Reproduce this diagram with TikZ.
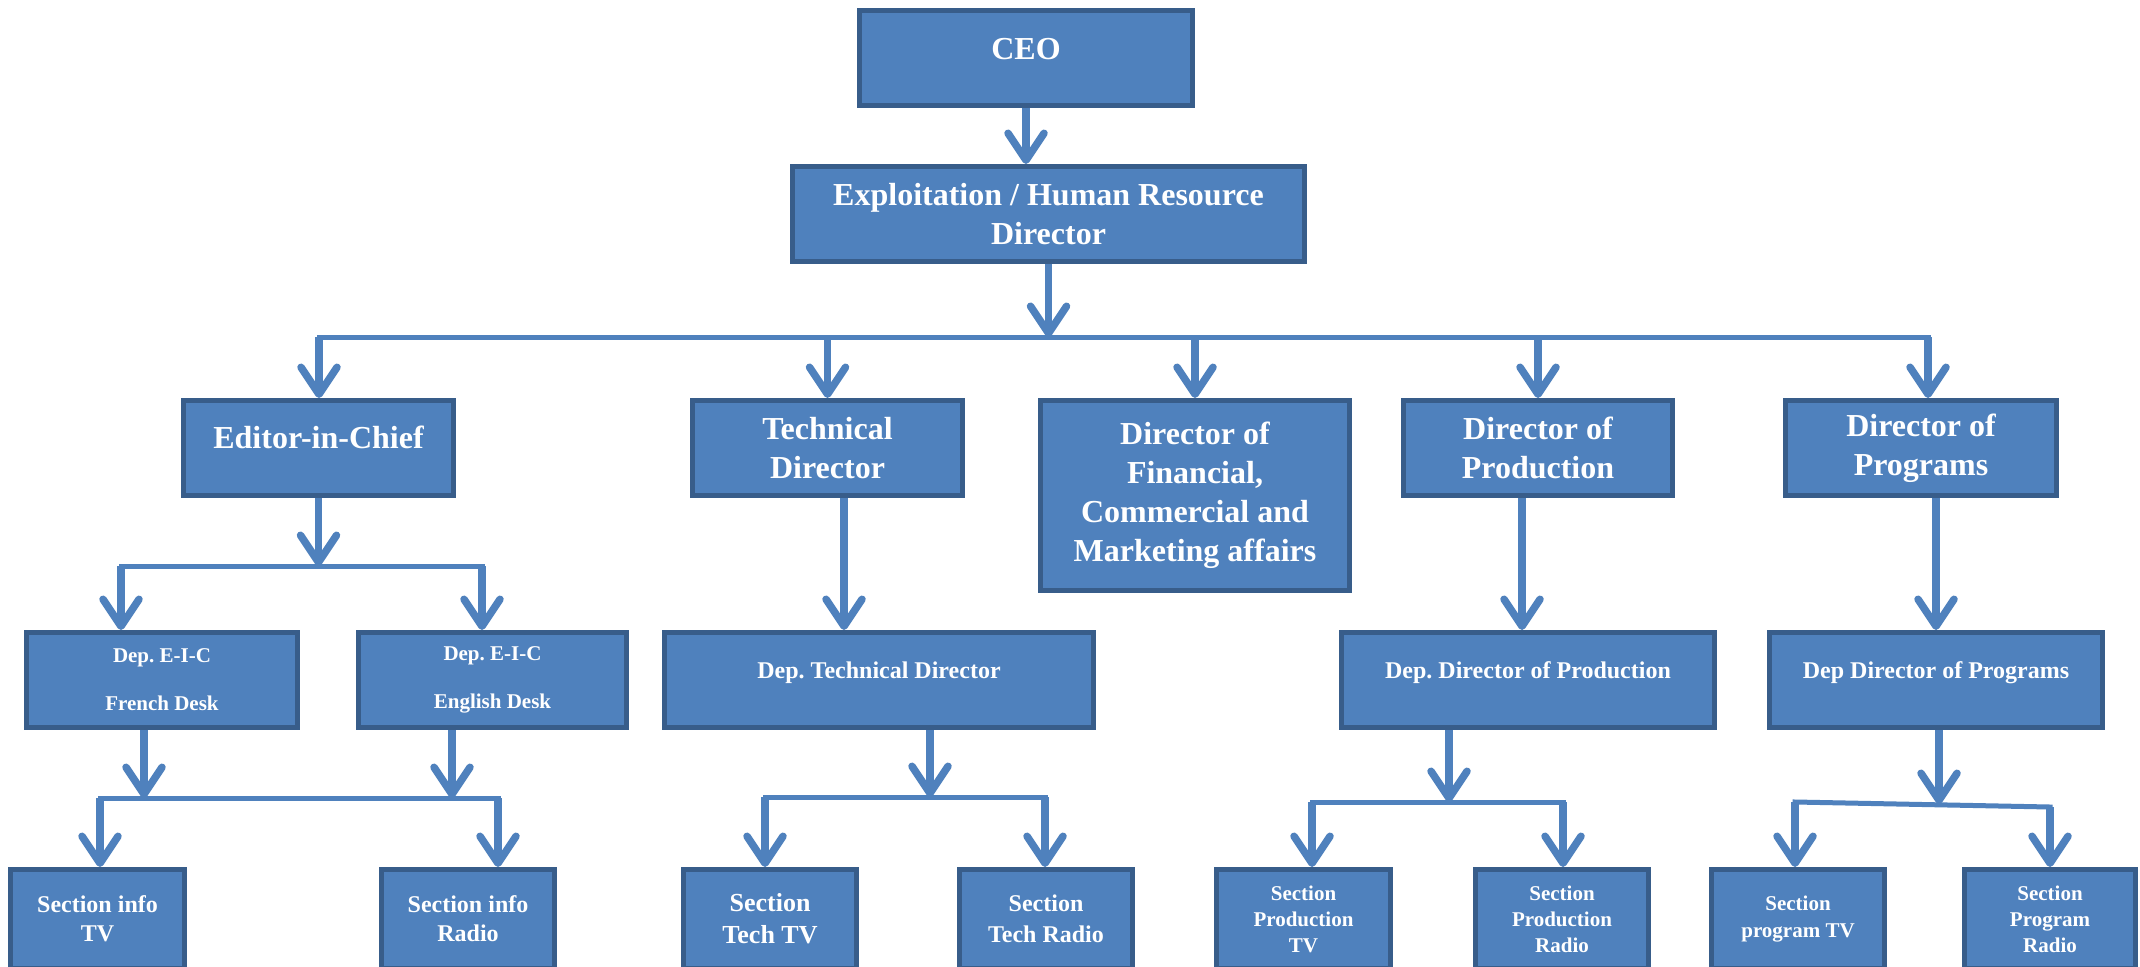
\documentclass[tikz,border=0pt]{standalone}
\usepackage{fontspec}
\setmainfont{Liberation Serif}
\usepackage{tikz}
\usetikzlibrary{arrows.meta}
\definecolor{boxfill}{HTML}{4F81BD}
\definecolor{boxline}{HTML}{385D8A}
\frenchspacing
\tikzset{
	unit/.style={draw=boxline,fill=boxfill,line width=5pt,text=white,align=center,inner sep=0pt},
	toprole/.style={unit,font=\bfseries\fontsize{32}{39}\selectfont,minimum height=95pt},
	deprole/.style={unit,font=\bfseries\fontsize{24}{29}\selectfont,minimum height=95pt},
	section/.style={unit,minimum height=99pt},
	arr/.style={draw=boxfill,line width=7.5pt,-{Straight Barb[length=27pt,width=36pt,round]}},
	bus/.style={draw=boxfill,line width=5pt,line cap=rect},
}

\begin{document}
\begin{tikzpicture}[x=1pt,y=-1pt]
			\useasboundingbox (0,0) rectangle (2140,966);
			\fill[white] (0,0) rectangle (2140,966);
			\clip (0,0) rectangle (2140,966);
			
			\node[toprole,minimum width=333pt,text depth=19pt] (ceo)at(1026,58) {CEO};
			\node[toprole,minimum width=512pt] (exp)at(1048.5,214) {Exploitation / Human Resource\\Director};
			
			\node[toprole,minimum width=270pt,text depth=22pt] (eic)at(318.5,448) {Editor-in-Chief};
			\node[toprole,minimum width=270pt] (techdir)at(827.5,448) {Technical\\Director};
			\node[toprole,minimum width=309pt,minimum height=190pt] (findir)at(1195,495.5) {Director of\\Financial,\\Commercial and\\Marketing affairs};
			\node[toprole,minimum width=269pt] (proddir)at(1538,448) {Director of\\Production};
			\node[toprole,minimum width=271pt] (progdir)at(1921,448) {Director of\\Programs};
			
			\node[deprole,font=\bfseries\fontsize{21}{26}\selectfont,minimum width=271pt] (depfr)at(162,680) {Dep. E-I-C\\[22pt]French Desk};
			\node[deprole,font=\bfseries\fontsize{21}{26}\selectfont,minimum width=268pt] (depen)at(492.5,680) {Dep. E-I-C\\[22pt]English Desk};
			\node[deprole,minimum width=429pt,text depth=20pt] (deptech)at(879,680) {Dep. Technical Director};
			\node[deprole,minimum width=373pt,text depth=20pt] (depprod)at(1528,680) {Dep. Director of Production};
			\node[deprole,minimum width=333pt,text depth=20pt] (depprog)at(1936,680) {Dep Director of Programs};
			
			\node[section,font=\bfseries\fontsize{24}{29}\selectfont,minimum width=174pt] (infotv)at(97.5,919) {Section info\\TV};
			\node[section,font=\bfseries\fontsize{24}{29}\selectfont,minimum width=173pt] (inforadio)at(468,919) {Section info\\Radio};
			\node[section,font=\bfseries\fontsize{26}{32}\selectfont,minimum width=173pt] (techtv)at(770,919) {Section\\Tech TV};
			\node[section,font=\bfseries\fontsize{24}{31}\selectfont,minimum width=173pt] (techradio)at(1046,919) {Section\\Tech Radio};
			\node[section,font=\bfseries\fontsize{21}{26}\selectfont,minimum width=174pt] (prodtv)at(1303.5,919) {Section\\Production\\TV};
			\node[section,font=\bfseries\fontsize{21}{26}\selectfont,minimum width=173pt] (prodradio)at(1562,919) {Section\\Production\\Radio};
			\node[section,font=\bfseries\fontsize{21}{27}\selectfont,minimum width=173pt] (progtv)at(1798,919) {Section\\program TV};
			\node[section,font=\bfseries\fontsize{21}{26}\selectfont,minimum width=171pt] (progradio)at(2050,919) {Section\\Program\\Radio};
			
			\coordinate (hubL)at(319,337);
			\coordinate (hubR)at(1928,337);
			\coordinate (eicL)at(121,566);
			\coordinate (eicR)at(482,566);
			\coordinate (deskL)at(100,798);
			\coordinate (deskR)at(498,798);
			\coordinate (frS)at(144,798);
			\coordinate (enS)at(452,798);
			\coordinate (techS)at(844,630);
			\coordinate (techL)at(765,797);
			\coordinate (techR)at(1045,797);
			\coordinate (techJ)at(930,797);
			\coordinate (prodS)at(1522,630);
			\coordinate (prodL)at(1312,802);
			\coordinate (prodR)at(1563,802);
			\coordinate (prodJ)at(1449,802);
			\coordinate (progL)at(1795,802);
			\coordinate (progR)at(2050,807);
			\coordinate (progJ)at(1939,804);
			
			\draw[arr] (ceo) -- (ceo |- exp.north);
			\draw[arr] (exp) -- (exp |- hubL);
			\draw[bus] (hubL) -- (hubR);
			\draw[arr] (hubL) -- (hubL |- eic.north);
			\draw[arr] (techdir |- hubL) -- (techdir.north);
			\draw[arr] (findir |- hubL) -- (findir.north);
			\draw[arr] (proddir |- hubL) -- (proddir.north);
			\draw[arr] (hubR) -- (hubR |- progdir.north);
			
			\draw[arr] (eic) -- (eic |- eicL);
			\draw[bus] (eicL) -- (eicR);
			\draw[arr] (eicL) -- (eicL |- depfr.north);
			\draw[arr] (eicR) -- (eicR |- depen.north);
			\draw[arr] (frS |- depfr.south) -- (frS);
			\draw[arr] (enS |- depen.south) -- (enS);
			\draw[bus] (deskL) -- (deskR);
			\draw[arr] (deskL) -- (deskL |- infotv.north);
			\draw[arr] (deskR) -- (deskR |- inforadio.north);
			
			\draw[arr] (techS |- techdir.south) -- (techS);
			\draw[arr] (techJ |- deptech.south) -- (techJ);
			\draw[bus] (techL) -- (techR);
			\draw[arr] (techL) -- (techL |- techtv.north);
			\draw[arr] (techR) -- (techR |- techradio.north);
			
			\draw[arr] (prodS |- proddir.south) -- (prodS);
			\draw[arr] (prodJ |- depprod.south) -- (prodJ);
			\draw[bus] (prodL) -- (prodR);
			\draw[arr] (prodL) -- (prodL |- prodtv.north);
			\draw[arr] (prodR) -- (prodR |- prodradio.north);
			
			\draw[arr] (depprog |- progdir.south) -- (depprog.north);
			\draw[arr] (progJ |- depprog.south) -- (progJ);
			\draw[bus] (progL) -- (progR);
			\draw[arr] (progL) -- (progL |- progtv.north);
			\draw[arr] (progR) -- (progR |- progradio.north);
		\end{tikzpicture}
\end{document}
